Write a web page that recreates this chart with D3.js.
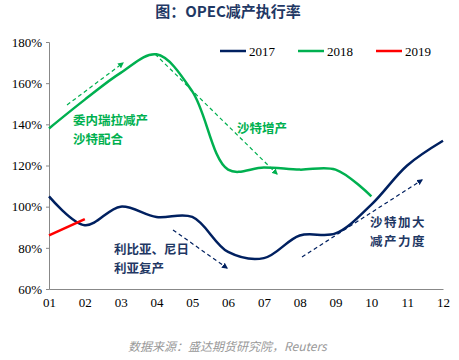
<!DOCTYPE html>
<html><head><meta charset="utf-8">
<script src="https://cdn.jsdelivr.net/npm/d3@7"></script>
<style>body{margin:0;background:#fff}svg{display:block}
.serif text{font-family:"Liberation Serif","DejaVu Serif",serif !important}</style>
</head><body>
<svg id="c" width="459" height="360"></svg>
<script>
const months = ["01","02","03","04","05","06","07","08","09","10","11","12"];
const s2017 = [105, 91, 100, 95, 95, 78, 75, 86, 87, 101, 120, 132];
const s2018 = [138, 152, 165, 174, 156, 118, 119, 118, 118, 105];
const s2019 = [86, 94];
const yTicks = [60, 80, 100, 120, 140, 160, 180];
const seriesNames = ["2017", "2018", "2019"];
const colors = ["#002060", "#00B050", "#FF0000"];

const svg = d3.select("#c");
const x = d3.scalePoint().domain(months).range([49, 443]);
const y = d3.scaleLinear().domain([60, 180]).range([289, 42]);

svg.append("text").attr("x", 228).attr("y", 17).attr("text-anchor", "middle")
  .attr("font-family", "'Noto Sans CJK SC', sans-serif").attr("font-weight", "bold")
  .attr("font-size", 15).attr("fill", "#1F3864").text("图：OPEC减产执行率");

// axes
const yAxis = svg.append("g").attr("class", "serif").attr("transform", "translate(49,0)")
  .call(d3.axisLeft(y).tickValues(yTicks).tickSize(3).tickFormat(d => d + "%"));
yAxis.select(".domain").attr("stroke", "#888");
yAxis.selectAll(".tick line").attr("stroke", "#888");
yAxis.selectAll("text").attr("font-size", 13).attr("fill", "#000").attr("dx", -1);

const xAxis = svg.append("g").attr("class", "serif").attr("transform", "translate(0,289)")
  .call(d3.axisBottom(x).tickSize(0).tickPadding(9));
xAxis.select(".domain").attr("stroke", "#888");
xAxis.selectAll("text").attr("font-size", 13).attr("fill", "#000");

const line = d3.line().x((d, i) => x(months[i])).y(d => y(d)).curve(d3.curveCatmullRom.alpha(0.5));
[s2017, s2018, s2019].forEach((s, k) => {
  svg.append("path").attr("d", line(s)).attr("fill", "none")
    .attr("stroke", colors[k]).attr("stroke-width", 2.5);
});

// legend
const legX = [220, 298, 376];
const leg = svg.append("g").attr("class", "serif");
seriesNames.forEach((n, k) => {
  leg.append("line").attr("x1", legX[k]).attr("x2", legX[k] + 26).attr("y1", 51).attr("y2", 51)
    .attr("stroke", colors[k]).attr("stroke-width", 2.5);
  leg.append("text").attr("x", legX[k] + 29).attr("y", 56)
    .attr("font-size", 13).attr("fill", "#000").text(n);
});

// arrows
const defs = svg.append("defs");
function marker(id, c) {
  defs.append("marker").attr("id", id).attr("viewBox", "0 0 10 10").attr("refX", 8).attr("refY", 5)
    .attr("markerWidth", 5).attr("markerHeight", 5).attr("orient", "auto")
    .append("path").attr("d", "M0,0L10,5L0,10Z").attr("fill", c);
}
marker("mg", "#00B050"); marker("mb", "#002060");
function arrow(x1, y1, x2, y2, c, m) {
  svg.append("line").attr("x1", x1).attr("y1", y1).attr("x2", x2).attr("y2", y2)
    .attr("stroke", c).attr("stroke-width", 1.2).attr("stroke-dasharray", "4,3")
    .attr("marker-end", "url(#" + m + ")");
}
arrow(67, 105, 123, 63, "#00B050", "mg");
arrow(155, 54, 277, 174, "#00B050", "mg");
arrow(173, 230, 227, 268, "#002060", "mb");
arrow(302, 257, 422, 180, "#002060", "mb");

function label(lines, x0, y0, c, ls) {
  lines.forEach((t, i) => {
    svg.append("text").attr("x", x0).attr("y", y0 + i * 19)
      .attr("font-family", "'Noto Sans CJK SC', sans-serif").attr("font-weight", "bold")
      .attr("font-size", 12.5).attr("fill", c).attr("letter-spacing", ls || 0).text(t);
  });
}
label(["委内瑞拉减产", "沙特配合"], 73, 125, "#00B050");
label(["沙特增产"], 237, 133, "#00B050");
label(["利比亚、尼日", "利亚复产"], 114, 254, "#1F3864");
label(["沙特加大", "减产力度"], 370, 227, "#1F3864", 1.5);

svg.append("text").attr("x", 128).attr("y", 351)
  .attr("font-family", "'Noto Sans CJK SC', sans-serif").attr("font-style", "italic")
  .attr("font-size", 12).attr("fill", "#999").text("数据来源：盛达期货研究院，Reuters");
</script>
</body></html>
